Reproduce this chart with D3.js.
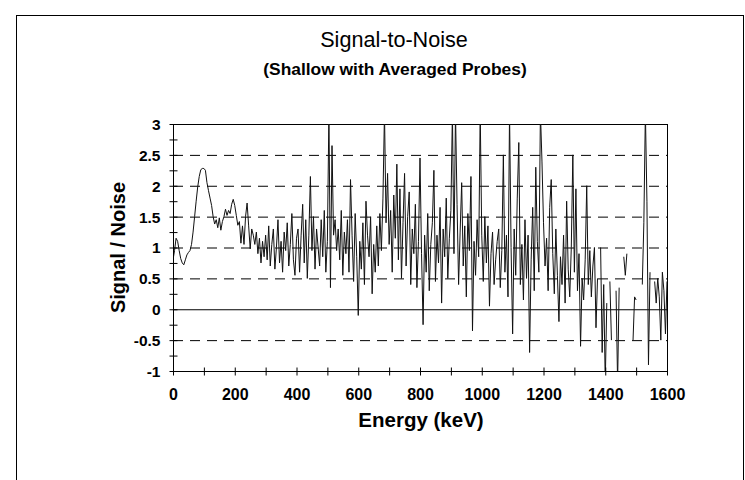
<!DOCTYPE html>
<html><head><meta charset="utf-8">
<script src="https://cdn.jsdelivr.net/npm/d3@7"></script>
<style>body{margin:0;background:#fff}svg{display:block}</style>
</head><body>
<svg id="c" width="745" height="480"></svg>
<script>
const titleText = "Signal-to-Noise";
const subtitleText = "(Shallow with Averaged Probes)";
const xLabel = "Energy (keV)";
const yLabel = "Signal / Noise";
const xTicks = [0, 200, 400, 600, 800, 1000, 1200, 1400, 1600];
const yTicks = [-1, -0.5, 0, 0.5, 1, 1.5, 2, 2.5, 3];
const energyStart = 0, energyStep = 5; // keV per channel
const snr = [
 0.80,0.95,1.15,1.10,0.95,0.82,0.75,0.72,0.80,0.88,0.92,0.95,1.05,1.25,1.50,1.75,1.98,2.15,2.26,2.28,
 2.28,2.25,2.05,1.92,1.80,1.68,1.50,1.38,1.45,1.32,1.48,1.28,1.42,1.50,1.62,1.52,1.60,1.55,1.70,1.78,
 1.68,1.52,1.36,1.42,1.07,1.35,1.05,1.50,1.72,1.35,0.98,1.30,1.20,1.05,1.25,0.90,1.15,0.75,1.10,0.85,
 1.20,0.80,1.35,0.70,1.05,1.30,0.65,1.00,1.45,0.75,1.10,0.60,1.25,0.95,1.40,0.70,1.05,1.55,0.80,0.55,
 1.15,1.30,0.60,1.20,1.70,0.75,1.45,0.50,1.20,2.15,0.95,1.50,0.65,1.30,1.00,0.70,1.45,0.85,1.60,0.60,
 1.10,3.20,0.35,2.65,1.20,1.45,0.95,1.30,0.80,1.60,0.55,1.25,0.90,1.45,0.60,2.10,1.20,0.45,1.55,0.85,
 -0.10,1.10,0.65,1.40,0.40,1.75,1.20,0.85,1.50,0.25,1.05,0.60,1.35,0.70,1.55,0.95,1.80,3.20,1.40,2.20,
 1.05,1.60,0.60,1.85,1.15,2.35,0.80,1.95,0.50,1.40,2.20,0.70,1.50,1.90,0.40,1.30,0.90,1.70,0.35,1.10,
 2.45,0.90,-0.25,1.20,0.60,1.55,0.30,1.05,1.40,2.25,0.45,1.20,0.75,1.65,0.10,1.30,0.85,1.80,0.50,1.15,
 1.60,3.20,0.90,3.20,1.70,0.40,1.25,2.05,0.70,1.35,0.20,1.55,0.95,2.15,-0.35,1.10,0.55,1.45,0.85,3.20,
 1.20,0.45,1.50,0.75,1.35,0.05,0.90,1.25,0.40,0.80,1.10,1.30,0.35,0.95,2.50,0.60,1.20,0.20,3.20,1.00,
 -0.40,1.30,0.55,1.80,2.70,0.40,1.05,0.15,1.45,0.50,1.20,-0.70,0.80,1.65,0.30,2.30,1.10,0.60,3.20,2.40,
 1.40,0.70,1.15,0.30,1.65,2.10,0.90,0.25,1.30,0.55,-0.20,0.85,0.40,1.20,0.10,1.75,0.65,0.20,1.00,2.50,
 0.60,1.95,0.30,0.90,-0.60,0.50,0.15,0.80,2.00,0.40,0.95,0.20,0.70,1.00,-0.30,0.50,null,1.00,-0.70,0.40,
 -1.20,0.10,null,0.45,-0.50,null,null,0.30,-1.20,0.35,null,null,0.85,0.55,0.90,null,null,null,-0.50,0.20,
 0.15,null,null,null,0.40,1.40,3.20,1.75,-0.90,0.60,null,null,0.45,0.10,0.50,0.20,-0.50,0.60,0.30,-0.40,
 0.45
];

const svg = d3.select("#c");
const pLeft = 173, pRight = 667, pTop = 124, pBottom = 371;
const x = d3.scaleLinear().domain([0, 1600]).range([pLeft, pRight]);
const y = d3.scaleLinear().domain([-1, 3]).range([pBottom, pTop]);
const font = "'Liberation Sans', Arial, Helvetica, sans-serif";
const fmt = d => String(d); // plain hyphen-minus like the original

// outer frame
svg.append("rect").attr("x", 16.5).attr("y", 15.5).attr("width", 727).attr("height", 500)
  .attr("fill", "none").attr("stroke", "#000").attr("stroke-width", 1);

// titles
svg.append("text").attr("x", 394).attr("y", 47).attr("text-anchor", "middle")
  .attr("font-family", font).attr("font-size", 21.6).text(titleText);
svg.append("text").attr("x", 395).attr("y", 75).attr("text-anchor", "middle")
  .attr("font-family", font).attr("font-size", 17.4).attr("font-weight", "bold").text(subtitleText);

// gridlines
const g = svg.append("g");
g.selectAll("line.grid").data(yTicks.filter(v => v !== 0 && v !== -1 && v !== 3)).join("line")
  .attr("x1", pLeft).attr("x2", pRight).attr("y1", d => y(d) + 0.5).attr("y2", d => y(d) + 0.5)
  .attr("stroke", "#000").attr("stroke-width", 1).attr("stroke-dasharray", "10,7");
g.append("line").attr("x1", pLeft).attr("x2", pRight).attr("y1", y(0) + 0.5).attr("y2", y(0) + 0.5)
  .attr("stroke", "#000").attr("stroke-width", 1.2);
g.append("line").attr("x1", pLeft).attr("x2", pRight).attr("y1", y(3) + 0.5).attr("y2", y(3) + 0.5)
  .attr("stroke", "#000").attr("stroke-width", 1);
g.append("line").attr("x1", pRight + 0.5).attr("x2", pRight + 0.5).attr("y1", pTop).attr("y2", pBottom)
  .attr("stroke", "#000").attr("stroke-width", 1);

// data line
svg.append("clipPath").attr("id", "clip").append("rect")
  .attr("x", pLeft).attr("y", pTop).attr("width", pRight - pLeft).attr("height", pBottom - pTop);
const pts = snr.map((v, i) => ({e: energyStart + i * energyStep, v}));
const line = d3.line().defined(d => d.v !== null).x(d => x(d.e)).y(d => y(d.v));
svg.append("path").datum(pts).attr("clip-path", "url(#clip)")
  .attr("fill", "none").attr("stroke", "#111").attr("stroke-width", 1).attr("d", line);

// axes
const xAxis = d3.axisBottom(x).tickValues(d3.range(0, 1601, 100)).tickSize(4)
  .tickFormat(d => xTicks.includes(d) ? fmt(d) : "");
const xg = svg.append("g").attr("transform", `translate(0,${pBottom + 0.5})`).call(xAxis);
xg.selectAll(".tick line").attr("y1", -4).attr("y2", 4);
xg.selectAll("text").attr("y", 17).attr("font-family", font).attr("font-size", 16).attr("font-weight", "bold");
xg.select(".domain").attr("d", `M${pLeft},0H${pRight}`);

const yAxis = d3.axisLeft(y).tickValues(d3.range(-1, 3.01, 0.25)).tickSize(4)
  .tickFormat(d => { const t = yTicks.find(t => Math.abs(t - d) < 1e-9); return t === undefined ? "" : fmt(t); });
const yg = svg.append("g").attr("transform", `translate(${pLeft + 0.5},0)`).call(yAxis);
yg.selectAll(".tick line").attr("x1", -4).attr("x2", 4);
yg.selectAll("text").attr("x", -13).attr("dy", "0.35em").attr("font-family", font).attr("font-size", 15.5).attr("font-weight", "bold");
yg.select(".domain").attr("d", `M0,${pTop}V${pBottom}`);
svg.selectAll(".domain, .tick line").attr("stroke", "#000");
svg.selectAll(".tick text").attr("fill", "#000");

// axis titles
svg.append("text").attr("x", 421).attr("y", 427).attr("text-anchor", "middle")
  .attr("font-family", font).attr("font-size", 20.5).attr("font-weight", "bold").text(xLabel);
svg.append("text").attr("transform", `translate(125,${(pTop + pBottom) / 2}) rotate(-90)`)
  .attr("text-anchor", "middle").attr("font-family", font).attr("font-size", 20)
  .attr("font-weight", "bold").text(yLabel);
</script>
</body></html>
